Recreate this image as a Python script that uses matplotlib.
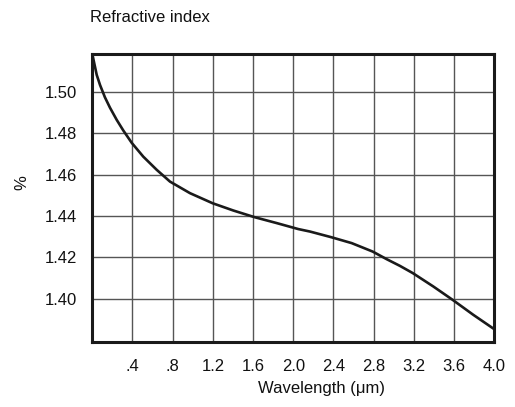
import matplotlib
matplotlib.use("Agg")
import matplotlib.pyplot as plt

plt.rcParams['font.family'] = ['Liberation Sans', 'DejaVu Sans']

wavelength = [0.0, 0.044, 0.077, 0.126, 0.176, 0.243, 0.308, 0.392, 0.507, 0.641,
              0.773, 0.972, 1.198, 1.403, 1.612, 1.835, 2.05, 2.166, 2.375, 2.581,
              2.79, 2.93, 3.06, 3.188, 3.393, 3.586, 3.79, 4.0]
refr_index = [1.5185, 1.5084, 1.5035, 1.4975, 1.4925, 1.4866, 1.4815, 1.4755, 1.4688,
              1.4624, 1.4567, 1.4511, 1.4462, 1.4427, 1.4395, 1.4366, 1.4337, 1.4325,
              1.4298, 1.4269, 1.4228, 1.4191, 1.4159, 1.4124, 1.4059, 1.3994, 1.3922,
              1.3852]

x_ticks = [0.4, 0.8, 1.2, 1.6, 2.0, 2.4, 2.8, 3.2, 3.6, 4.0]
x_labels = ['.4', '.8', '1.2', '1.6', '2.0', '2.4', '2.8', '3.2', '3.6', '4.0']
y_ticks = [1.40, 1.42, 1.44, 1.46, 1.48, 1.50]
y_labels = ['1.40', '1.42', '1.44', '1.46', '1.48', '1.50']

fig = plt.figure(figsize=(5.15, 4.07), dpi=100)
ax = fig.add_axes([0.1792, 0.1597, 0.7806, 0.7076])

ax.plot(wavelength, refr_index, color='#1a1a1a', lw=1.9, solid_joinstyle='round',
        solid_capstyle='butt', zorder=3)

ax.set_xlim(0, 4.0)
ax.set_ylim(1.379, 1.5185)
ax.set_xticks(x_ticks)
ax.set_xticklabels(x_labels)
ax.set_yticks(y_ticks)
ax.set_yticklabels(y_labels)
ax.tick_params(axis='both', length=0, labelsize=12, colors='#111111')
ax.tick_params(axis='x', pad=12)
ax.tick_params(axis='y', pad=11)
ax.grid(True, color='#555555', lw=1.0)
ax.set_axisbelow(True)
for s in ax.spines.values():
    s.set_linewidth(2.2)
    s.set_color('#1a1a1a')

fig.text(90/515, 1 - 18/407, 'Refractive index', ha='left', va='center', fontsize=12, color='#111111')
fig.text(22/515, 1 - 183/407, '%', ha='center', va='center', rotation=90, fontsize=12, color='#111111')
fig.text(322/515, 1 - 389/407, 'Wavelength (\u03bcm)', ha='center', va='center', fontsize=12, color='#111111')

fig.savefig('out.png', dpi=100)
